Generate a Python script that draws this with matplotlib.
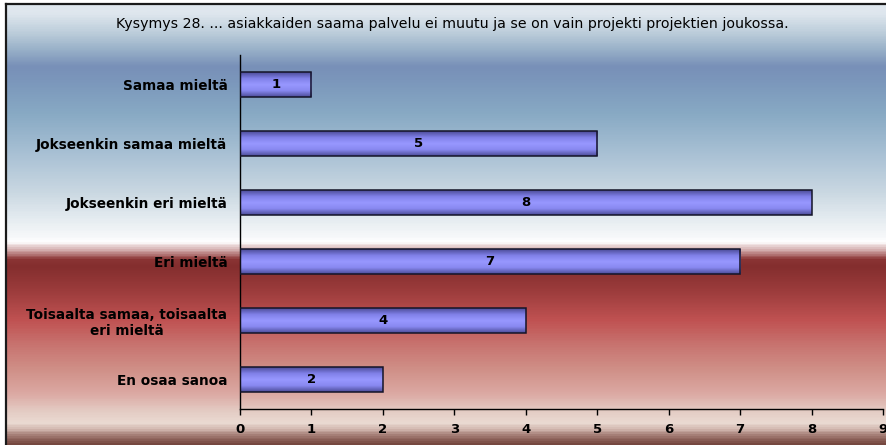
import matplotlib
matplotlib.use("Agg")
import matplotlib.pyplot as plt
from matplotlib.colors import LinearSegmentedColormap
import numpy as np

plt.rcParams['font.family'] = ['DejaVu Sans']

title = "Kysymys 28. ... asiakkaiden saama palvelu ei muutu ja se on vain projekti projektien joukossa."
categories = ["Samaa mieltä", "Jokseenkin samaa mieltä", "Jokseenkin eri mieltä",
              "Eri mieltä", "Toisaalta samaa, toisaalta\neri mieltä", "En osaa sanoa"]
counts = [1, 5, 8, 7, 4, 2]
xticks = list(range(0, 10))

W, H = 887, 445
fig = plt.figure(figsize=(W / 100, H / 100), dpi=100)

# background gradient (pixel rows from top -> colour)
stops = [(0, "#dfe7ee"), (8, "#dfe7ee"), (30, "#b8cad8"), (45, "#98b0c8"),
         (62, "#7890b8"), (80, "#7c98bc"), (110, "#88aac4"), (150, "#a8c0d4"),
         (190, "#cad8e2"), (220, "#e8eef2"), (236, "#f8f9fb"), (240, "#ffffff"),
         (250, "#c89898"), (258, "#8a3434"), (265, "#842e2e"), (290, "#9c3c3c"),
         (320, "#c05252"), (345, "#c87470"), (370, "#d09088"), (395, "#dcaaa4"),
         (412, "#e4ccc4"), (424, "#eadad2"), (430, "#d4bab2"), (437, "#a07870"),
         (445, "#764840")]
bg_cmap = LinearSegmentedColormap.from_list("bg", [(p / H, c) for p, c in stops])
bg = fig.add_axes([6 / W, 0, 1 - 6 / W, 1 - 4 / H])
bg.imshow(np.linspace(0, 1, 445).reshape(-1, 1), aspect="auto", cmap=bg_cmap,
          extent=[0, 1, 0, 1], origin="upper")
bg.set_axis_off()
fig.add_artist(plt.Line2D([6 / W, 1], [1 - 4 / H] * 2, color="#1a1a1a", lw=1.6))
fig.add_artist(plt.Line2D([6 / W] * 2, [0, 1 - 4 / H], color="#1a1a1a", lw=1.6))

fig.text(452 / W, 1 - 24 / H, title, ha="center", va="center", fontsize=10.2)

ax = fig.add_axes([240 / W, 1 - 409 / H, 643 / W, 354 / H])
ax.patch.set_alpha(0)
y = np.arange(len(categories))
bars = ax.barh(y, counts, height=0.41, color="#9090f8", edgecolor="#141428", lw=1.1, zorder=2)

bar_cmap = LinearSegmentedColormap.from_list("bar", ["#4c4c98", "#8080e8", "#9898ff",
                                                     "#8888f0", "#4c4c98"])
grad = np.linspace(0, 1, 64).reshape(-1, 1)
for b, v in zip(bars, counts):
    im = ax.imshow(grad, aspect="auto", cmap=bar_cmap, zorder=2.5,
                   extent=[b.get_x(), b.get_x() + b.get_width(),
                           b.get_y() + b.get_height(), b.get_y()])
    im.set_clip_path(b)
    ax.text(v / 2, b.get_y() + b.get_height() / 2, str(v), ha="center", va="center",
            fontsize=9.5, fontweight="bold", zorder=4)
    b.set_facecolor("none")
    b.set_zorder(3)

ax.set_xlim(0, 9)
ax.set_ylim(len(categories) - 0.5, -0.5)
ax.set_xticks(xticks)
ax.set_yticks(y)
ax.set_yticklabels(categories, fontsize=9.8, fontweight="bold")
for lbl in ax.get_yticklabels():
    lbl.set_multialignment("center")
ax.tick_params(axis="y", length=0, pad=9)
ax.tick_params(axis="x", length=4, direction="out", pad=6, labelsize=9.5, width=1)
for lbl in ax.get_xticklabels():
    lbl.set_fontweight("bold")
ax.spines["top"].set_visible(False)
ax.spines["right"].set_visible(False)
ax.spines["left"].set_linewidth(1)
ax.spines["bottom"].set_linewidth(1)

fig.savefig("out.png", dpi=100)
